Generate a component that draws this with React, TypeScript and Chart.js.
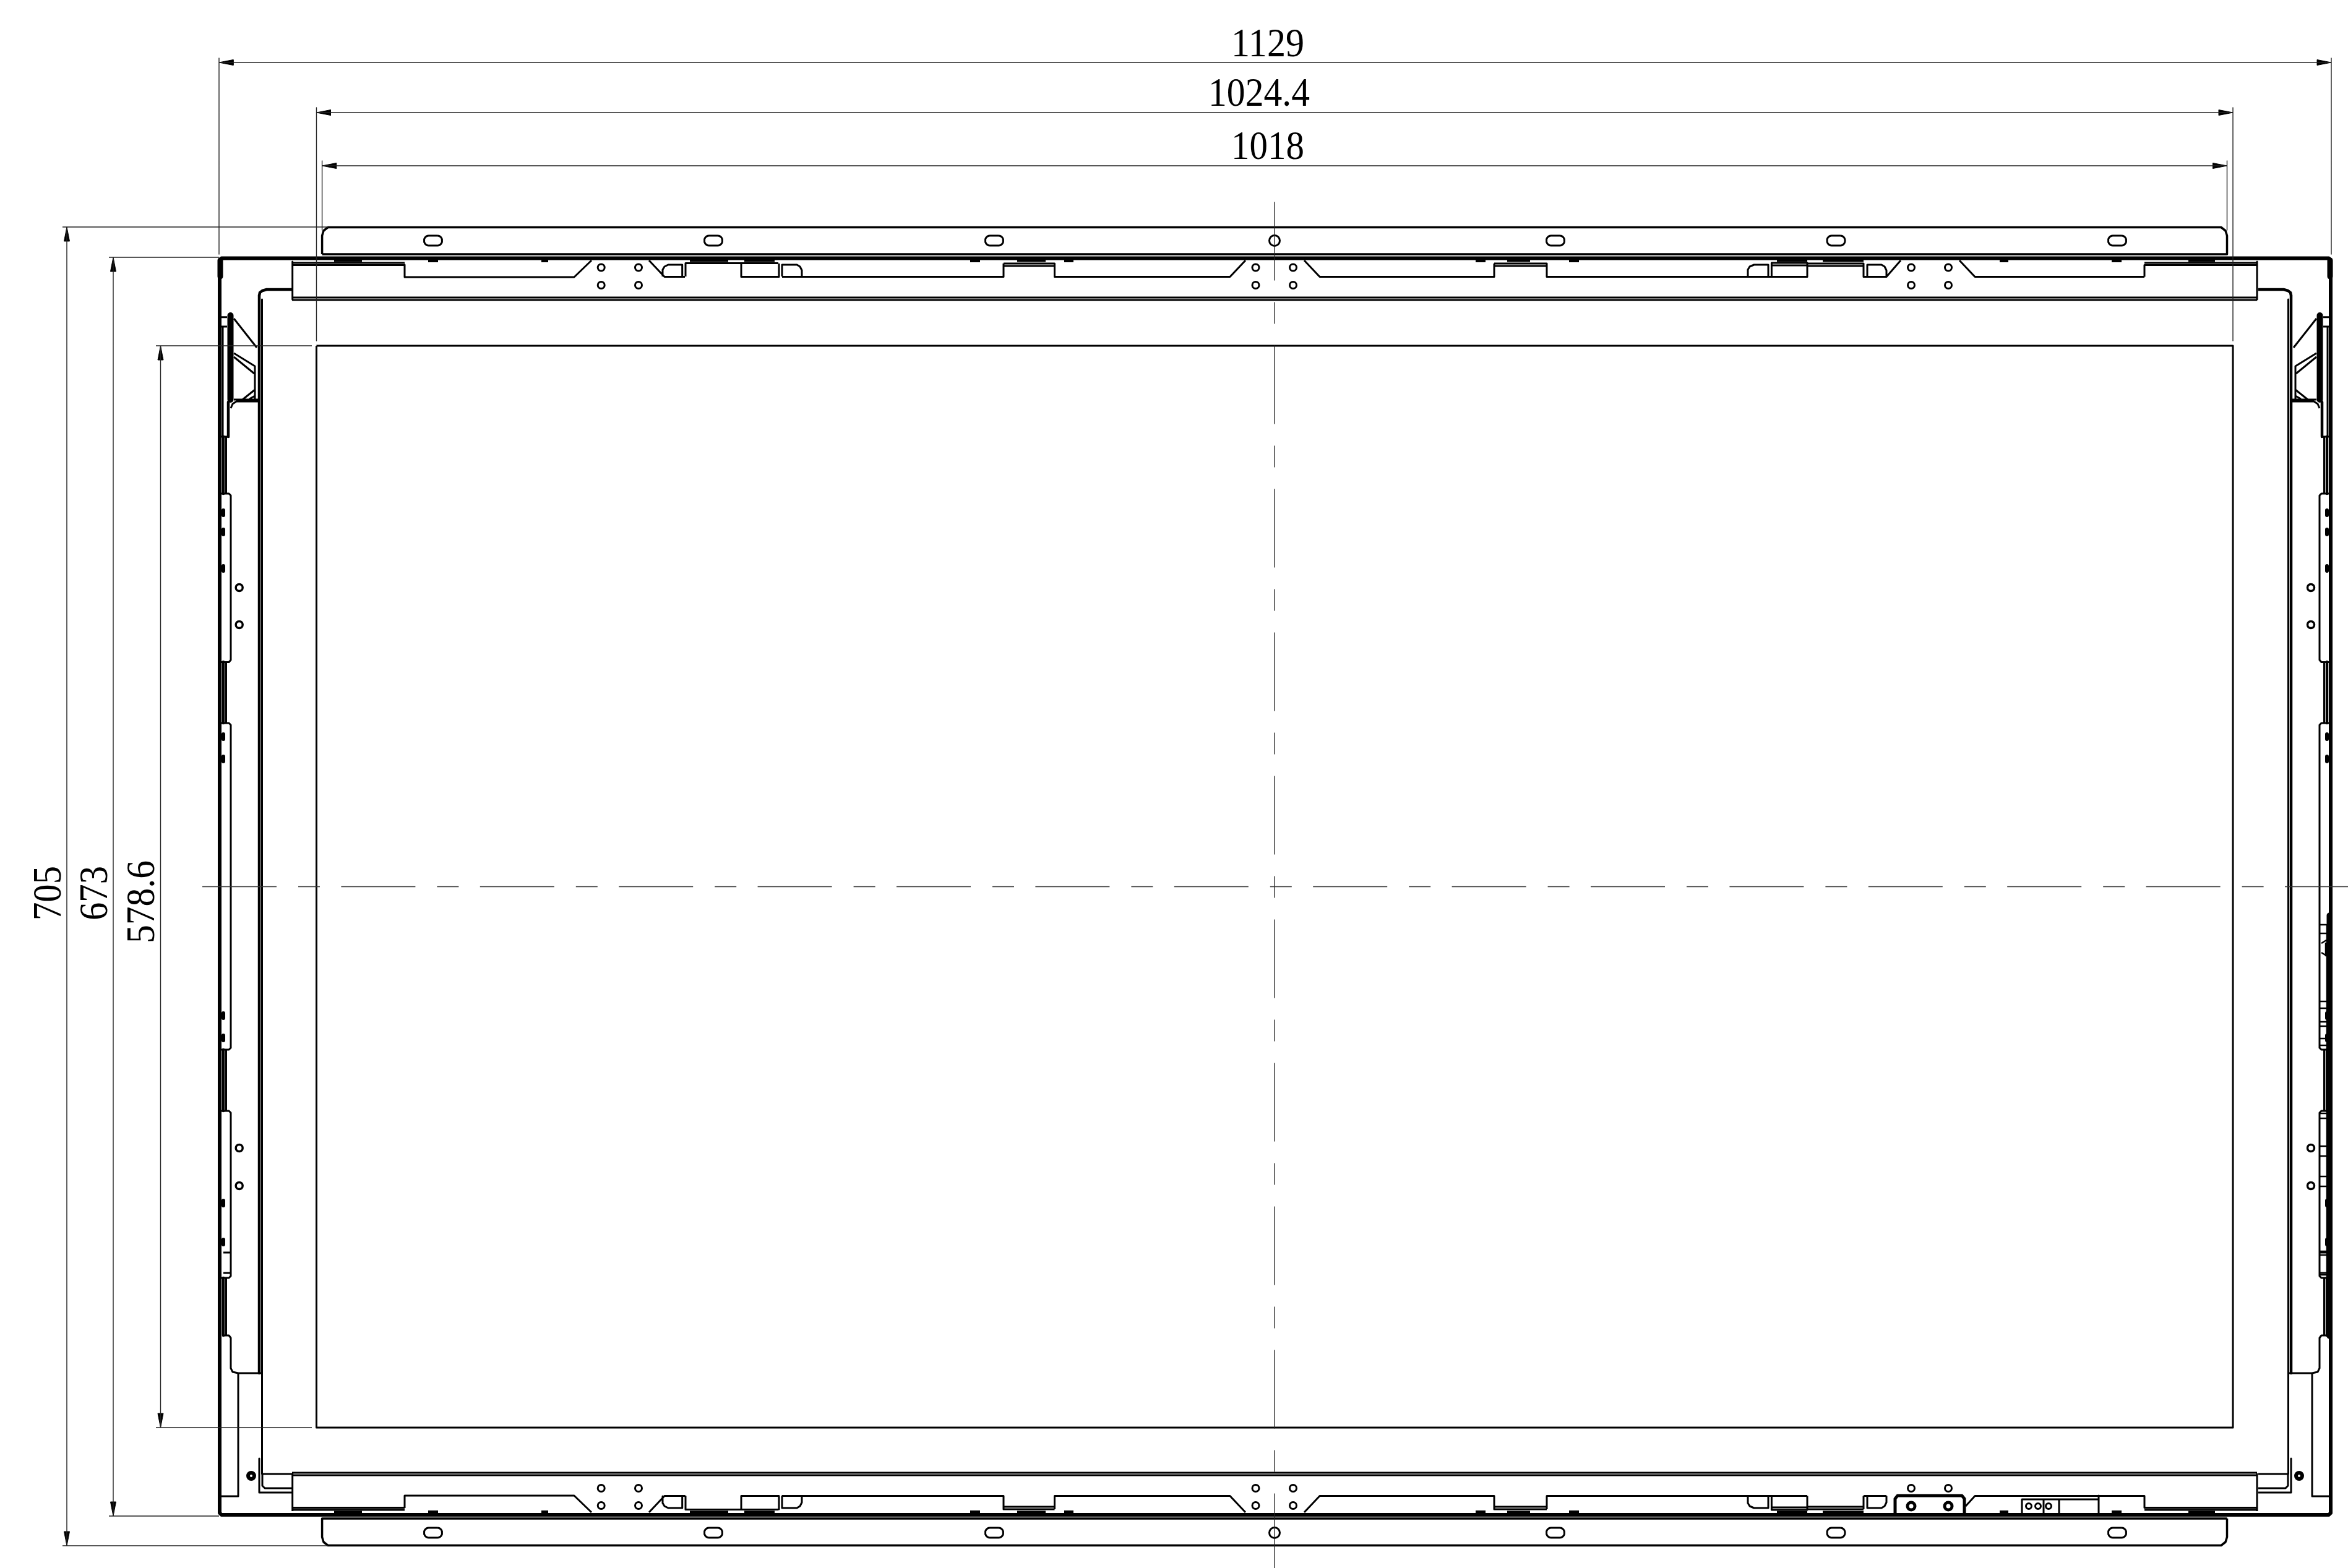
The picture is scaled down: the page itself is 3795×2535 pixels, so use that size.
import React, { useEffect, useRef } from "react";
import { Chart, registerables } from "chart.js";

Chart.register(...registerables);

// Drawing units: one unit is one pixel of the 3795 x 2535 drawing sheet.
const sheetWidth = 3795;
const sheetHeight = 2535;
const mirrorXSum = 4122; // left side <-> right side
const mirrorYSum = 2866; // top rail <-> bottom rail

type Poly = number[];

// ---- Dimension texts ----
const horizontalDimLabels = ["1129", "1024.4", "1018"];
const horizontalDimX = [2049, 2035, 2049];
const horizontalDimBaseline = [91, 171, 257];
const horizontalDimInk = [118, 164, 118];

const verticalDimLabels = ["705", "673", "578.6"];
const verticalDimBaseline = [98, 173, 249];
const verticalDimY = [1444, 1444, 1458];
const verticalDimInk = [88, 88, 134];

// ---- Dimension lines and extension lines ----
const dimensionLines: Poly[] = [
  [354, 101, 3768, 101],
  [511.5, 182, 3609, 182],
  [520.6, 268, 3599.5, 268],
  [108, 367, 108, 2499],
  [183, 416, 183, 2451],
  [259.5, 559, 259.5, 2308],
];
const extensionLines: Poly[] = [
  [354, 94, 354, 411],
  [3768, 94, 3768, 411],
  [511.5, 174, 511.5, 551],
  [3609, 174, 3609, 551],
  [520.6, 260, 520.6, 372],
  [3599.5, 260, 3599.5, 372],
  [101, 367, 530, 367],
  [101, 2499, 530, 2499],
  [176, 416, 354, 416],
  [176, 2451, 354, 2451],
  [252, 559, 504, 559],
  [252, 2308, 504, 2308],
];
// tip x, tip y, direction x, direction y (direction the tip points to)
const arrowTips: number[][] = [
  [354, 101, -1, 0],
  [3768, 101, 1, 0],
  [511.5, 182, -1, 0],
  [3609, 182, 1, 0],
  [520.6, 268, -1, 0],
  [3599.5, 268, 1, 0],
  [108, 367, 0, -1],
  [108, 2499, 0, 1],
  [183, 416, 0, -1],
  [183, 2451, 0, 1],
  [259.5, 559, 0, -1],
  [259.5, 2308, 0, 1],
];

// ---- Centre lines ----
const centreLineHorizontal: Poly[] = [[327, 1433.5, 3795, 1433.5]];
const centreLineVertical: Poly[] = [[2060, 326.5, 2060, 2535]];

// ---- Part outlines ----
const screenOutline: Poly[] = [[511.5, 559, 3609, 559, 3609, 2308, 511.5, 2308, 511.5, 559]];
const flangeTop: Poly[] = [
  [520.6, 411, 520.6, 381, 523, 373, 530, 367.5, 3590, 367.5, 3597, 373, 3599.5, 381, 3599.5, 411],
  [520.6, 411, 3599.5, 411],
];
const frameOutline: Poly[] = [
  [355, 425, 355, 420, 358, 417.5, 3764, 417.5, 3767, 420, 3767, 2446, 3764, 2449, 358, 2449, 355, 2446, 355, 425],
];
const frameThickParts: Poly[] = [
  [356, 421, 356, 447],
  [3766, 421, 3766, 447],
  [3765, 1480, 3765, 2160],
];

// top rail, left-to-right; the bottom rail mirrors it
const railCommon: Poly[] = [
  [472.7, 423, 472.7, 484],
  [472, 425, 654, 425],
  [472, 428.5, 654, 428.5],
  [654, 428, 654, 448, 928, 448, 956, 421],
  [1049, 421, 1074, 447.5, 1107, 447.5],
  [1071, 447, 1071, 436, 1074, 431, 1080, 428, 1102.7, 428, 1102.7, 447],
  [1108, 447, 1108, 425.5, 1258, 425.5],
  [1198, 426, 1198, 447.5, 1259, 447.5, 1259, 426],
  [1264, 447, 1264, 428, 1288, 428, 1293, 431, 1296, 437, 1296, 447.5],
  [1264, 447.5, 1622, 447.5, 1622, 426],
  [1622, 426, 1704.5, 426],
  [1622, 430, 1704.5, 430],
  [1704.5, 426, 1704.5, 447.5, 1988, 447.5, 2013, 421],
  [2108, 421, 2133, 447.5, 2415, 447.5, 2415, 426],
  [2415, 426, 2500, 426],
  [2415, 430, 2500, 430],
  [2500, 426, 2500, 447.5, 2825, 447.5],
  [2825, 447, 2825, 436, 2828, 431, 2835, 428, 2858, 428, 2858, 447.5],
  [2863.4, 447.5, 2863.4, 425, 2921, 425, 2921, 447.5],
  [2825, 447.5, 2921, 447.5],
  [2863, 429, 2921, 429],
  [2921, 426, 3012, 426],
  [2921, 430, 3012, 430],
  [3012, 426, 3012, 447.5],
  [3018, 447.5, 3018, 428, 3041, 428, 3046, 431, 3049, 437, 3049, 447.5],
  [3012, 447.5, 3049, 447.5],
  [3466, 447.5, 3466, 428.5, 3648, 428.5],
  [3466, 425, 3648, 425],
  [3648, 423, 3648, 484],
  [472, 481, 3648, 481],
  [472, 485, 3648, 485],
];
const railTopOnly: Poly[] = [
  [3049, 447.5, 3072, 421],
  [3167, 421, 3192, 447.5, 3466, 447.5],
];
const railBottomOnly: Poly[] = [
  [3177, 2435, 3192, 2418.5, 3466, 2418.5],
  [3268, 2446, 3268, 2424, 3328, 2424, 3328, 2446],
  [3303, 2424, 3303, 2446],
  [3328, 2424, 3392, 2424],
  [3392, 2418, 3392, 2446],
];
const railBottomBlock: Poly[] = [[3063, 2446, 3063, 2423, 3067, 2418, 3171, 2418, 3175, 2423, 3175, 2446]];
const railBlackPads: Poly[] = [
  [540, 585], [1115, 1177], [1203, 1252], [1644, 1690], [2436, 2473], [2872, 2921], [2946, 3012], [3537, 3580],
];
const railBumps: Poly[] = [
  [692, 708], [875, 886], [1568, 1584], [1720, 1735], [2385, 2401], [2536, 2552], [3232, 3246], [3413, 3429],
];

// left side, left-to-right; the right side mirrors it
const sideOutlines: Poly[] = [
  [358, 798, 370, 798, 373, 801, 373, 1067, 370, 1070.5, 358, 1070.5],
  [358, 1169, 370, 1169, 373, 1172, 373, 1694, 370, 1697, 358, 1697],
  [358, 1796, 370, 1796, 373, 1799, 373, 2063, 370, 2066, 358, 2066],
  [365.5, 706, 365.5, 798],
  [365.5, 1070.5, 365.5, 1169],
  [365.5, 1697, 365.5, 1796],
  [365.5, 2066, 365.5, 2159],
  [361, 2025, 373, 2025],
  [361, 2058, 373, 2058],
  [362, 2159, 370, 2159, 373, 2163, 373, 2212, 376, 2218, 385, 2220, 423, 2220],
  [385, 2220, 385, 2419, 358, 2419],
  [358, 706, 371, 706],
  [358, 512.7, 367, 512.7],
  [358, 528, 367, 528],
  [360, 528, 360, 706],
  [378, 515, 415, 562],
  [378, 571, 412, 592],
  [378, 577, 411, 604],
  [412, 592, 412, 647],
  [392, 646, 412, 630],
  [403, 645, 412, 640],
  [378, 646, 418, 646],
  [418, 649, 382, 649, 376, 653, 373, 660],
  [419, 2358, 419, 2413, 472, 2413],
  [424, 2383, 424, 2402, 428, 2406, 472, 2406],
  [424, 2383, 472, 2383],
  [423.5, 484, 423.5, 2383],
];
const sideHeavy: Poly[] = [
  [419, 477, 419, 2220],
  [472, 468, 431, 468, 424, 470, 420, 473, 419, 478],
  [369, 650, 369, 706],
  [361, 706, 361, 798],
  [361, 1070, 361, 1169],
  [361, 1697, 361, 1796],
  [361, 2066, 361, 2159],
];
const sideColumn: Poly[] = [[372.5, 510, 372.5, 646]];
const sideBumpsY: Poly[] = [[825, 833], [856, 864], [915, 923], [1187, 1195], [1223, 1231], [1638, 1646], [1674, 1682], [1941, 1949], [2004, 2012]];

// small boxes that only the right side shows
const rightBoxes: Poly[] = [
  [3750, 1495, 3760, 1495], [3750, 1509, 3760, 1509],
  [3750, 1619, 3762, 1619], [3750, 1630, 3762, 1630],
  [3750, 1652, 3762, 1652], [3750, 1659, 3762, 1659],
  [3750, 1679, 3762, 1679], [3750, 1690, 3762, 1690],
  [3750, 1800, 3762, 1800], [3750, 1808, 3762, 1808],
  [3750, 1853, 3762, 1853], [3750, 1869, 3762, 1869],
  [3750, 1902, 3760, 1902], [3750, 1918, 3760, 1918],
  [3750, 2023, 3762, 2023], [3750, 2029, 3762, 2029],
  [3750, 2061, 3761, 2061],
  [3752, 1525, 3760, 1520], [3752, 1540, 3760, 1545], [3759, 1525, 3759, 1545],
  [3761, 1495, 3761, 1698],
  [3761, 1795, 3761, 2067],
];

// ---- Holes ----
const railHoleX = [971.7, 1032, 2029.5, 2090, 3089, 3149];
const railHoleRowsY = [432.5, 461, 2406];
const railHoleBottomRowX = [971.7, 1032, 2029.5, 2090];
const railHoleBottomRowY = 2434;
const railThickHoleX = [3089, 3149];
const railThickHoleY = 2435;
const connectorHoleX = [3279, 3294, 3311];
const connectorHoleY = 2435;
const sideHoleX = [386.7, 3735];
const sideHoleY = [950, 1010, 1856, 1917];
const cornerHoleX = [406, 3716];
const cornerHoleY = 2386;
const flangeSlotX = [700, 1153, 1607, 2514, 2967.5, 3422];
const flangeRowsY = [389, 2478];
const flangeCentreHoleX = 2060;

// Turns polylines into a point list with a gap between them.
function pts(polys: Poly[]) {
  const out: { x: number; y: number }[] = [];
  polys.forEach((p) => {
    for (let i = 0; i + 1 < p.length; i += 2) out.push({ x: p[i], y: p[i + 1] });
    out.push({ x: NaN, y: NaN });
  });
  return out;
}
const mirrorY = (polys: Poly[]) => polys.map((p) => p.map((v, i) => (i % 2 ? mirrorYSum - v : v)));
const mirrorX = (polys: Poly[]) => polys.map((p) => p.map((v, i) => (i % 2 ? v : mirrorXSum - v)));
const both = (polys: Poly[]) => [...polys, ...mirrorX(polys)];
const rows = (xs: number[], ys: number[]) => ys.flatMap((y) => xs.map((x) => ({ x, y })));

// Rounded slot outline around a slot centre.
function slotOutline(cx: number, cy: number): Poly {
  const hw = 14.5, hh = 8, r = 7.5;
  const out: number[] = [];
  const corners = [
    [cx + hw - r, cy - hh + r, -90],
    [cx + hw - r, cy + hh - r, 0],
    [cx - hw + r, cy + hh - r, 90],
    [cx - hw + r, cy - hh + r, 180],
  ];
  corners.forEach(([x, y, a]) => {
    for (let k = 0; k <= 6; k++) {
      const t = ((a + k * 15) * Math.PI) / 180;
      out.push(x + r * Math.cos(t), y + r * Math.sin(t));
    }
  });
  out.push(out[0], out[1]);
  return out;
}

const line = (polys: Poly[], width: number, color = "#000", dash: number[] = []) => ({
  type: "scatter" as const,
  data: pts(polys),
  showLine: true,
  spanGaps: false,
  borderColor: color,
  borderWidth: width,
  borderDash: dash,
  borderJoinStyle: "round" as const,
  borderCapStyle: "butt" as const,
  pointRadius: 0,
  fill: false,
  clip: false as const,
});
const holes = (data: { x: number; y: number }[], radius: number, width: number) => ({
  type: "scatter" as const,
  data,
  showLine: false,
  pointStyle: "circle" as const,
  pointRadius: radius,
  pointBorderWidth: width,
  pointBorderColor: "#000",
  pointBackgroundColor: "#fff",
  clip: false as const,
});
const arrow = ([x, y, dx, dy]: number[]) => {
  const len = 23, half = 4.5;
  const bx = x - dx * len, by = y - dy * len;
  const tri: Poly = [x, y, bx + dy * half, by + dx * half, bx - dy * half, by - dx * half, x, y];
  return { ...line([tri], 1), data: pts([tri]).slice(0, 4), fill: "shape", backgroundColor: "#000" };
};

const dimensionText = {
  id: "dimensionText",
  afterDatasetsDraw(chart: any) {
    const { ctx, scales } = chart;
    ctx.save();
    ctx.fillStyle = "#000";
    ctx.font = '66px "Liberation Serif"';
    ctx.textBaseline = "alphabetic";
    ctx.textAlign = "center";
    horizontalDimLabels.forEach((t, i) => {
      ctx.fillText(t, scales.x.getPixelForValue(horizontalDimX[i]), scales.y.getPixelForValue(horizontalDimBaseline[i]), horizontalDimInk[i]);
    });
    verticalDimLabels.forEach((t, i) => {
      ctx.save();
      ctx.translate(scales.x.getPixelForValue(verticalDimBaseline[i]), scales.y.getPixelForValue(verticalDimY[i]));
      ctx.rotate(-Math.PI / 2);
      ctx.fillText(t, 0, 0, verticalDimInk[i]);
      ctx.restore();
    });
    ctx.restore();
  },
};

export default function App() {
  const ref = useRef<HTMLCanvasElement>(null);
  useEffect(() => {
    const slots = flangeRowsY.flatMap((y) => flangeSlotX.map((x) => slotOutline(x, y)));
    const railThin = [...railCommon, ...railTopOnly, ...mirrorY(railCommon), ...railBottomOnly];
    const padsAt = (pads: Poly[], y: number) => pads.map(([a, b]) => [a, y, b, y]);
    const chart = new Chart(ref.current as HTMLCanvasElement, {
      type: "scatter",
      data: {
        datasets: [
          line(centreLineHorizontal, 1.5, "#333", [120, 35, 35, 34.4]),
          line(centreLineVertical, 1.3, "#222", [127, 35, 35, 35]),
          line([...dimensionLines, ...extensionLines], 1.4, "#222"),
          ...arrowTips.map(arrow),
          line(screenOutline, 3),
          line(flangeTop, 3.5),
          line(mirrorY(flangeTop), 3.5),
          line(slots, 3),
          line(frameOutline, 6),
          line(frameThickParts, 9),
          line(railThin, 3),
          line(railBottomBlock, 5),
          line([...padsAt(railBlackPads, 421), ...padsAt(railBlackPads, 2445)], 5),
          line([...padsAt(railBumps, 422), ...padsAt(railBumps, 2444)], 4),
          line(both(sideOutlines), 3),
          line(both(sideHeavy), 4.5),
          line(both(sideColumn), 10),
          line(both(sideBumpsY.map(([a, b]) => [361, a, 361, b])), 6),
          line(rightBoxes, 2.5),
          holes(rows(railHoleX, railHoleRowsY), 5.5, 3),
          holes(rows(railHoleBottomRowX, [railHoleBottomRowY]), 5.5, 3),
          holes(rows(railThickHoleX, [railThickHoleY]), 6, 5),
          holes(rows(connectorHoleX, [connectorHoleY]), 4.5, 3),
          holes(rows(sideHoleX, sideHoleY), 5.5, 3.5),
          holes(rows(cornerHoleX, [cornerHoleY]), 5, 6),
          holes(rows([flangeCentreHoleX], flangeRowsY), 8.5, 3),
        ] as any,
      },
      options: {
        animation: false,
        responsive: false,
        devicePixelRatio: 1,
        events: [],
        layout: { padding: 0, autoPadding: false },
        plugins: { legend: { display: false }, tooltip: { enabled: false }, title: { display: false } },
        scales: {
          x: { type: "linear", min: 0, max: sheetWidth, display: false },
          y: { type: "linear", reverse: true, min: 0, max: sheetHeight, display: false },
        },
      },
      plugins: [dimensionText],
    });
    return () => chart.destroy();
  }, []);
  return (
    <canvas
      ref={ref}
      width={sheetWidth}
      height={sheetHeight}
      style={{ position: "absolute", left: 0, top: 0, display: "block", background: "#fff" }}
    />
  );
}
